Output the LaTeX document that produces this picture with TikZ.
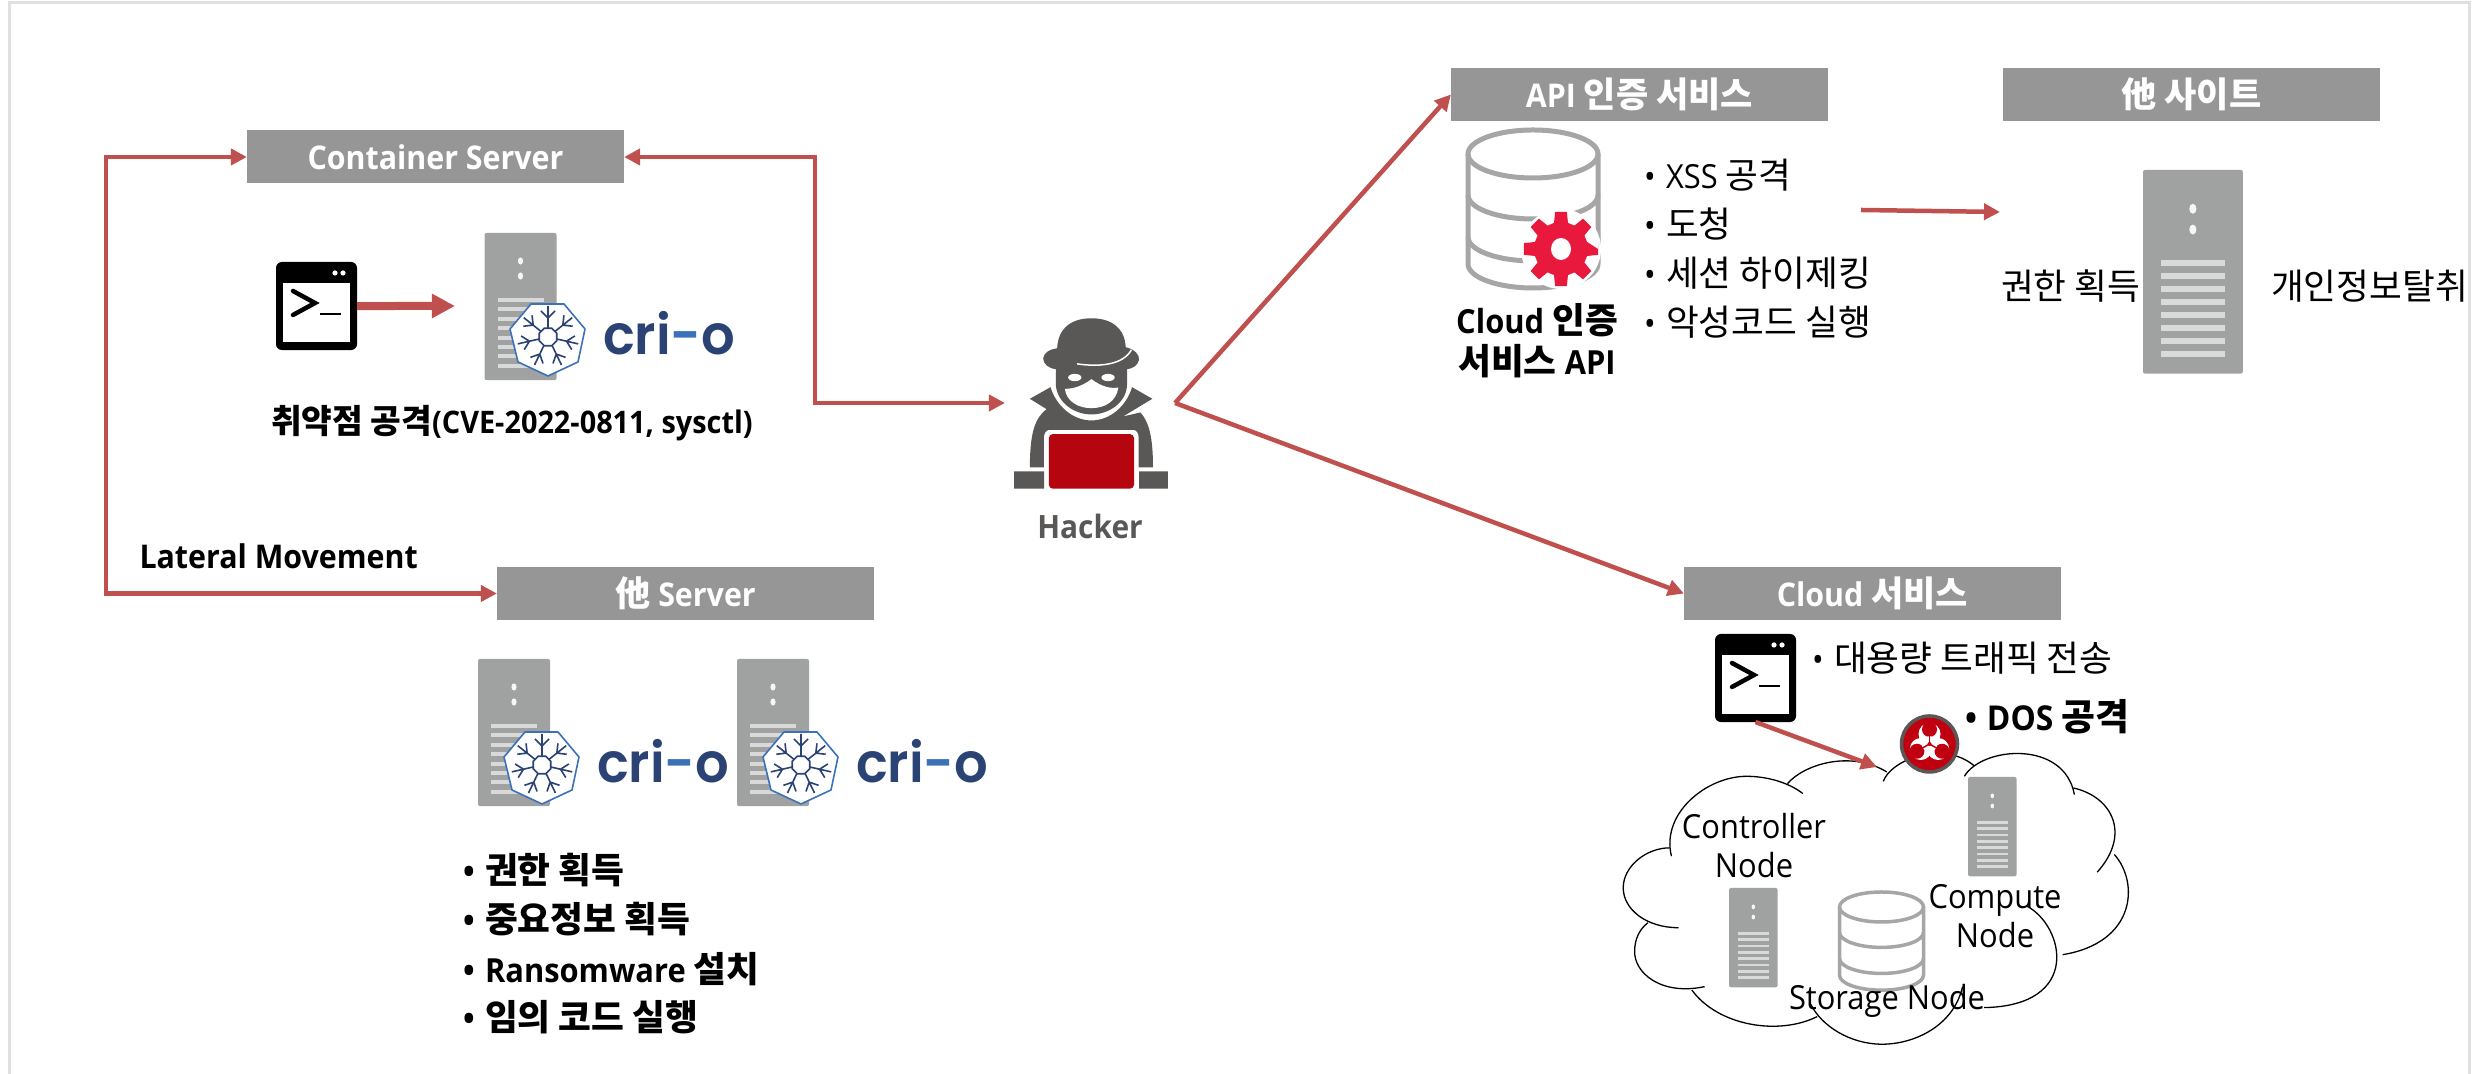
\documentclass[tikz,border=0pt]{standalone}
\usepackage{fontspec}
\usetikzlibrary{arrows.meta}
\setmainfont[Scale=1.07,FakeStretch=0.93]{Open Sans}
\newfontfamily\krf[Scale=1.15]{Noto Sans CJK KR}
\newfontfamily\crifont[FakeStretch=0.96]{Poppins SemiBold}
\newcommand\K[1]{{\krf #1}}
\newcommand\sz[1]{\fontsize{\fpeval{#1*0.2845}pt}{\fpeval{#1*0.34}pt}\selectfont}
\newcommand\bl{\makebox[0.22cm][l]{•}}
\definecolor{arrowred}{HTML}{C0504D}
\definecolor{hdrgray}{HTML}{969696}
\definecolor{srvgray}{HTML}{A0A2A1}
\definecolor{srvline}{HTML}{D9D9D9}
\definecolor{dbgray}{HTML}{A6A6A6}
\definecolor{hackgray}{HTML}{595856}
\definecolor{hackred}{HTML}{B5050F}
\definecolor{gearred}{HTML}{E8193C}
\definecolor{crodark}{HTML}{2A4374}
\definecolor{croblue}{HTML}{3B71B8}
\definecolor{biored}{HTML}{C00010}
\tikzset{
  lw/.style={line width=#1*0.01cm},
  hdr/.style={fill=hdrgray,text=white,font=\sz{30.5}\bfseries,inner sep=0pt,outer sep=0pt,
    minimum width=3.77cm,minimum height=0.53cm},
  conn/.style={draw=arrowred,lw=4.5,line join=miter,-{Triangle[length=0.16cm,width=0.16cm]}},
  conntwo/.style={draw=arrowred,lw=4.5,line join=miter,{Triangle[length=0.16cm,width=0.16cm]}-{Triangle[length=0.16cm,width=0.16cm]}},
  thick conn/.style={draw=arrowred,lw=8,-{Triangle[length=0.23cm,width=0.23cm]}},
  txt/.style={inner sep=0pt,outer sep=0pt,font=\sz{31}},
  btxt/.style={inner sep=0pt,outer sep=0pt,font=\sz{31}\bfseries},
  boxnode/.style={inner sep=0pt,outer sep=0pt,anchor=north west},
  db/.style={draw=dbgray,fill=none},
  lobe/.style={draw=black,lw=1.3},
}
% server icon: name, left, top, scale
\newcommand\srv[4]{%
  \node[boxnode,fill=srvgray,rounded corners=0.02cm,minimum width=#4*0.72cm,minimum height=#4*1.47cm] (#1) at (#2,#3) {};
  \begin{scope}[shift={(#2,#3)},scale=#4]
    \fill[white!90!srvgray] (36,28) ellipse (2.6 and 3.6) (36,43) ellipse (2.6 and 3.6);
    \foreach \k in {0,...,7} \draw[srvline,line width=#4*0.04cm] (13,67+9.4*\k) -- (59,67+9.4*\k);
  \end{scope}}
% terminal icon: name, left, top
\newcommand\term[3]{%
  \node[boxnode,fill=black,rounded corners=0.06cm,minimum width=0.81cm,minimum height=0.88cm] (#1) at (#2,#3) {};
  \begin{scope}[shift={(#2,#3)}]
    \fill[white] (7,21) rectangle (74,80);
    \fill[white] (59,11) circle (2.6) (67,11) circle (2.6);
    \draw[lw=4.5,line cap=round] (17,29) -- (39,41) -- (17,53);
    \draw[lw=2.5] (44,52) -- (65,52);
  \end{scope}}
% cri-o logo: centre of heptagon
\newcommand\crio[3]{%
  \begin{scope}[shift={(#2,#3)}]
    \draw[draw=croblue,fill=white,lw=1.6,line join=round] (-17,-36) -- (16,-36) -- (37,-11) -- (30,22) -- (0,36) -- (-30,22) -- (-38,-11) -- cycle;
    \begin{scope}[shift={(0,-3)},draw=crodark,lw=1.6]
      \foreach \a in {90,141.43,192.86,244.29,295.71,347.14,38.57} {
        \begin{scope}[rotate=\a]
          \draw (9,0) -- (31,0) (19,0) -- (26,7) (19,0) -- (26,-7);
        \end{scope}}
      \draw (22.5:9.5) -- (67.5:9.5) -- (112.5:9.5) -- (157.5:9.5) -- (202.5:9.5) -- (247.5:9.5) -- (292.5:9.5) -- (337.5:9.5) -- cycle;
    \end{scope}
    \node[inner sep=0pt,outer sep=0pt,anchor=base west,font=\crifont\sz{55},text=crodark] (#1) at (55,15) {cri\textcolor{croblue}{-}o};
  \end{scope}}
% cylinder: centre x, ellipse centre y, rx, ry, lw, spacing
\newcommand\cyl[6]{%
  \begin{scope}[shift={(#1,#2)}]
    \draw[db,lw=#5] (0,0) ellipse (#3 and #4);
    \draw[db,lw=#5] (-#3,0) -- (-#3,#6*2.2) arc[start angle=180,end angle=0,x radius=#3,y radius=#4] -- (#3,0);
    \draw[db,lw=#5] (-#3,#6*0.82) arc[start angle=180,end angle=0,x radius=#3,y radius=#4];
    \draw[db,lw=#5] (-#3,#6*1.66) arc[start angle=180,end angle=0,x radius=#3,y radius=#4];
  \end{scope}}
\begin{document}
\begin{tikzpicture}[x=0.01cm,y=-0.01cm]
\useasboundingbox (0,0) rectangle (2474,1074);
% frame
\draw[draw=black!12,lw=3] (9,1074) -- (9,3) -- (2469,3) -- (2469,1074);

% headers
\node[hdr] (cs) at (435.5,157) {Container Server};
\node[hdr] (os) at (685.5,593.5) {\K{他} Server};
\node[hdr] (api) at (1639.5,94.5) {API \K{인증 서비스}};
\node[hdr] (site) at (2191.5,94.5) {\K{他 사이트}};
\node[hdr] (cloud) at (1872.5,593.5) {Cloud \K{서비스}};

% hacker
\node[inner sep=0pt,outer sep=0pt,minimum width=1.70cm,minimum height=1.72cm] (hk) at (1090,403) {};
\begin{scope}[shift={(950,290)},x=0.003333cm,y=-0.003333cm]
  \fill[hackgray] (302,292) -- (240,327) -- (290,358) .. controls (255,385) and (240,430) .. (240,533) -- (282,533) -- (282,445) .. controls (282,428) and (290,420) .. (302,420) -- (548,420) .. controls (560,420) and (567,428) .. (567,445) -- (567,533) -- (610,533) .. controls (610,440) and (597,395) .. (572,368) -- (520,380) -- (608,327) -- (547,292) .. controls (530,350) and (480,392) .. (425,392) .. controls (370,392) and (320,350) .. (302,292) -- cycle;
  \fill[hackgray] (318,238) -- (318,285) .. controls (322,340) and (375,374) .. (425,374) .. controls (475,374) and (530,340) .. (532,285) -- (532,238) -- cycle;
  \fill[white] (345,297) .. controls (370,297) and (395,290) .. (425,268) .. controls (455,290) and (480,297) .. (506,293) .. controls (500,335) and (465,355) .. (425,355) .. controls (385,355) and (350,335) .. (345,297) -- cycle;
  \fill[white] (375,263) ellipse (20 and 11) (475,263) ellipse (20 and 11);
  \fill[hackgray] (322,175) .. controls (325,110) and (370,85) .. (425,85) .. controls (480,85) and (525,110) .. (528,172) .. controls (555,178) and (570,195) .. (568,210) .. controls (565,228) and (545,238) .. (530,238) -- (318,238) .. controls (295,235) and (280,222) .. (280,205) .. controls (282,188) and (300,178) .. (322,175) -- cycle;
  \draw[white,lw=1.5] (382,222) .. controls (450,232) and (520,225) .. (545,180);
  \fill[hackgray] (193,545) rectangle (283,597) (568,545) rectangle (655,597);
  \fill[hackred,rounded corners=0.04cm] (297,433) rectangle (553,597);
\end{scope}
\node[inner sep=0pt,outer sep=0pt,font=\sz{30}\bfseries,text=hackgray] (hklabel) at (1090,526) {Hacker};

% left: container server
\term{term1}{276}{262}
\srv{srv1}{484.5}{233}{1}
\crio{cri1}{548}{340}
\coordinate (thickend) at (455,306);
\draw[thick conn] (term1.east) -- (thickend);
\node[btxt,anchor=west,font=\sz{29}\bfseries] (vuln) at (271,423) {\K{취약점 공격}(CVE-2022-0811, sysctl)};

% left arrows
\coordinate (latA) at (106,157);
\coordinate (latB) at (106,593.5);
\draw[conntwo] (cs.west) -- (latA) -- (latB) -- (os.west);
\coordinate (hkA) at (815,157);
\coordinate (hkB) at (815,403);
\draw[conntwo] (cs.east) -- (hkA) -- (hkB) -- (hk.west);
\node[btxt,anchor=west,font=\sz{30.5}\bfseries] (lat) at (139.5,556) {Lateral Movement};

% other servers
\srv{srv2}{478}{659}{1}
\srv{srv3}{737}{659}{1}
\crio{cri2}{542}{768}
\crio{cri3}{801}{768}
\node[btxt,anchor=west] (l1) at (463,870) {\bl\K{권한 획득}};
\node[btxt,anchor=west] (l2) at (463,919) {\bl\K{중요정보 획득}};
\node[btxt,anchor=west] (l3) at (463,969) {\bl Ransomware \K{설치}};
\node[btxt,anchor=west] (l4) at (463,1017) {\bl\K{임의 코드 실행}};

% hacker lines
\draw[conn] (hk.east) -- (api.west);
\draw[conn] (hk.east) -- (cloud.west);

% API DB
\cyl{1533}{154}{65}{24}{5}{50}
\node[inner sep=0pt,outer sep=0pt,minimum width=0.74cm,minimum height=0.78cm] (gear) at (1561,249) {};
\begin{scope}[shift={(1561,249)}]
  \fill[white] (0,0) circle (40);
  \fill[gearred] (0:37) \foreach \a in {0,45,...,315} { -- (\a-9:37.5) -- (\a+9:37.5) -- (\a+15:27) -- (\a+30:27) } -- cycle;
  \fill[white] (0,0) ellipse (10 and 11);
\end{scope}
\node[btxt,align=center,anchor=center,font=\sz{31}\bfseries] (dblabel) at (1537,341) {Cloud \K{인증}\\[0.04cm]\K{서비스} API};
\node[txt,anchor=west] (a1) at (1644,175) {\bl XSS \K{공격}};
\node[txt,anchor=west] (a2) at (1644,224) {\bl\K{도청}};
\node[txt,anchor=west] (a3) at (1644,273) {\bl\K{세션 하이제킹}};
\node[txt,anchor=west] (a4) at (1644,322) {\bl\K{악성코드 실행}};

% other site
\coordinate (sitefrom) at (1861,210);
\coordinate (siteto) at (2000,212);
\draw[conn] (sitefrom) -- (siteto);
\srv{srv4}{2143}{170}{1.385}
\node[txt,anchor=west] (s1) at (2001,286) {\K{권한 획득}};
\node[txt,anchor=west] (s2) at (2271,286) {\K{개인정보탈취}};

% cloud
\begin{scope}[shift={(1600,560)},x=0.003571cm,y=-0.003333cm]
  \draw[lobe] (525,672) .. controls (570,615) and (700,570) .. (803,637);
  \draw[lobe] (793,665) .. controls (815,600) and (960,540) .. (1047,618);
  \draw[lobe] (1020,650) .. controls (1070,560) and (1300,540) .. (1328,705);
  \draw[lobe] (1325,685) .. controls (1430,710) and (1490,820) .. (1392,938);
  \draw[lobe] (1440,885) .. controls (1510,970) and (1500,1150) .. (1295,1186);
  \draw[lobe] (1195,1040) .. controls (1300,1100) and (1350,1340) .. (1075,1345);
  \draw[lobe] (1015,1282) .. controls (990,1400) and (880,1455) .. (790,1455) .. controls (700,1455) and (620,1400) .. (590,1335);
  \draw[lobe] (608,1372) .. controls (500,1430) and (330,1400) .. (257,1292);
  \draw[lobe] (293,1282) .. controls (170,1310) and (95,1240) .. (97,1175) .. controls (97,1140) and (110,1110) .. (134,1090);
  \draw[lobe] (220,1105) .. controls (130,1105) and (65,1050) .. (65,985) .. controls (65,920) and (130,865) .. (195,865);
  \draw[lobe] (200,890) .. controls (170,760) and (300,650) .. (410,650) .. controls (470,650) and (530,670) .. (568,702);
\end{scope}
\srv{srv5}{1968}{777}{0.675}
\srv{srv6}{1729}{888}{0.675}
\cyl{1881.5}{907}{42}{15}{3.5}{31}
\term{term2}{1715}{634}
\coordinate (cloudtip) at (1877,767);
\draw[conn] (term2.south) -- (cloudtip);
% biohazard
\node[circle,inner sep=0pt,outer sep=0pt,minimum size=0.56cm,fill=biored,draw=hackgray,lw=3.5] (bio) at (1929.5,744) {};
\begin{scope}[shift={(1929.5,744)}]
  \foreach \a in {90,210,330} {
    \fill[white] (\a:-10) circle (11);
    \fill[biored] (\a:-14.5) circle (7.5);
  }
  \draw[white,lw=2.5] (0,0) circle (6.5);
  \foreach \a in {90,210,330} \draw[biored,lw=1.5] (0,0) -- (\a:-9);
  \fill[biored] (0,0) circle (2);
\end{scope}
\node[txt,anchor=west] (c1) at (1812,658) {\bl\K{대용량 트래픽 전송}};
\node[btxt,anchor=west,font=\sz{32}\bfseries] (c2) at (1965,717) {\bl DOS \K{공격}};
\node[txt,align=center,font=\sz{31}] (ctrl) at (1754,846) {Controller\\[0.02cm]Node};
\node[txt,align=center,font=\sz{31}] (comp) at (1995,916) {Compute\\[0.02cm]Node};
\node[txt,font=\sz{31}] (stor) at (1887,1001) {Storage Node};
\end{tikzpicture}
\end{document}
